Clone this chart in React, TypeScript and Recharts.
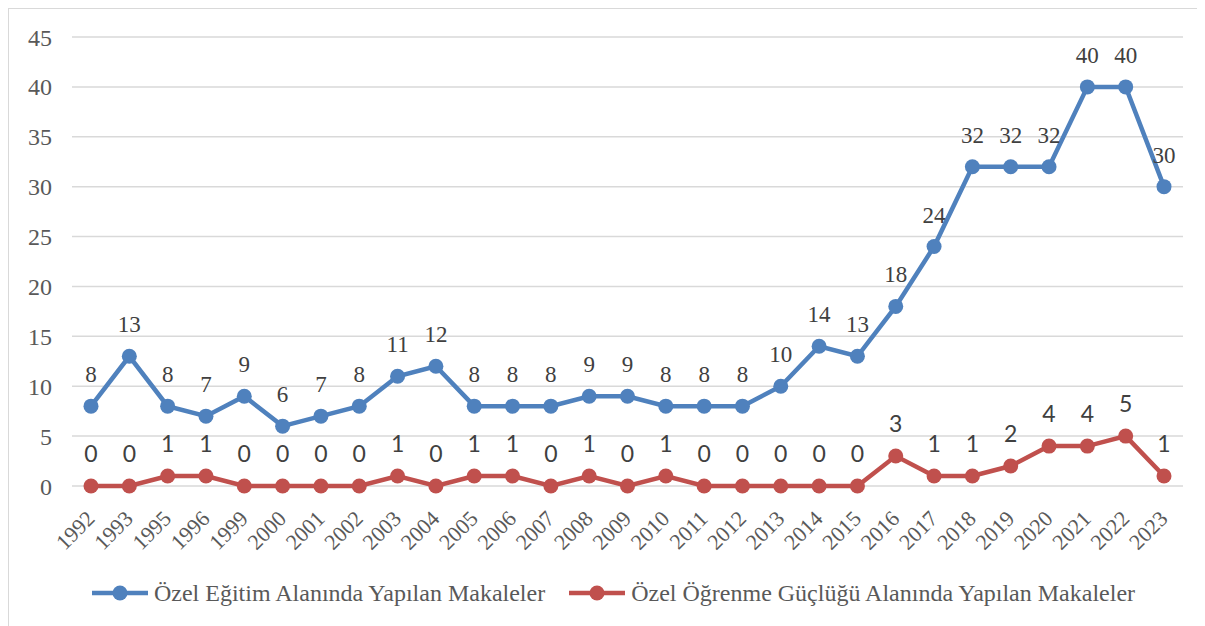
import { LineChart, Line, XAxis, YAxis, CartesianGrid, Legend, LabelList } from "recharts";

// Yayın sayıları: yıllara göre iki seri
const YEARS = [
  "1992", "1993", "1995", "1996", "1999", "2000", "2001", "2002", "2003", "2004",
  "2005", "2006", "2007", "2008", "2009", "2010", "2011", "2012", "2013", "2014",
  "2015", "2016", "2017", "2018", "2019", "2020", "2021", "2022", "2023",
];
const OZEL_EGITIM = [
  8, 13, 8, 7, 9, 6, 7, 8, 11, 12, 8, 8, 8, 9, 9, 8, 8, 8, 10, 14, 13, 18, 24, 32, 32, 32, 40, 40, 30,
];
const OGRENME_GUCLUGU = [
  0, 0, 1, 1, 0, 0, 0, 0, 1, 0, 1, 1, 0, 1, 0, 1, 0, 0, 0, 0, 0, 3, 1, 1, 2, 4, 4, 5, 1,
];
const Y_TICKS = [0, 5, 10, 15, 20, 25, 30, 35, 40, 45];

const SERIES_A = "Özel Eğitim Alanında Yapılan Makaleler";
const SERIES_B = "Özel Öğrenme Güçlüğü Alanında Yapılan Makaleler";

const BLUE = "#4f81bd";
const RED = "#c0504d";
const GRID = "#d9d9d9";
const AXIS_TXT = "#595959";
const LABEL_TXT = "#404040";
const SERIF = "'Liberation Serif', 'Times New Roman', serif";
const SANS = "Lato, 'Open Sans', sans-serif";

const data = YEARS.map((year, i) => ({
  year,
  a: OZEL_EGITIM[i],
  b: OGRENME_GUCLUGU[i],
}));

function XTick({ x, y, payload }: any) {
  const tx = x + 5;
  const ty = y + 34;
  return (
    <text
      x={tx}
      y={ty}
      transform={`rotate(-45 ${tx} ${ty})`}
      textAnchor="end"
      fontFamily={SERIF}
      fontSize={22}
      fill={AXIS_TXT}
    >
      {payload.value}
    </text>
  );
}

function makeLabel(font: string) {
  return (props: any) => {
    const { x, y, value } = props;
    return (
      <text x={x} y={y - 24} textAnchor="middle" fontFamily={font} fontSize={23} fill={LABEL_TXT}>
        {value}
      </text>
    );
  };
}

function LegendBox() {
  const item = (color: string, text: string, gap: number) => (
    <div style={{ display: "flex", alignItems: "center", marginRight: gap }}>
      <svg width={58} height={16}>
        <line x1={0} y1={8} x2={56} y2={8} stroke={color} strokeWidth={4.5} />
        <circle cx={28} cy={8} r={7.5} fill={color} />
      </svg>
      <span style={{ fontFamily: SERIF, fontSize: 24, color: AXIS_TXT, lineHeight: "28px", marginLeft: 4 }}>{text}</span>
    </div>
  );
  return (
    <div style={{ height: 40, display: "flex", justifyContent: "center", alignItems: "center", paddingLeft: 35 }}>
      {item(BLUE, SERIES_A, 24)}
      {item(RED, SERIES_B, 0)}
    </div>
  );
}

export default function App() {
  return (
    <div style={{ width: 1195, height: 640, border: `1px solid ${GRID}`, background: "#fff" }}>
      <LineChart width={1193} height={617} data={data} margin={{ top: 28, right: 19, left: 0, bottom: 13 }}>
        <CartesianGrid vertical={false} stroke={GRID} strokeWidth={1.5} />
        <XAxis
          dataKey="year"
          interval={0}
          tickLine={false}
          axisLine={false}
          tickSize={0}
          tickMargin={0}
          height={87}
          padding={{ left: 19, right: 19 }}
          tick={<XTick />}
        />
        <YAxis
          domain={[0, 45]}
          ticks={Y_TICKS}
          width={63}
          tickLine={false}
          axisLine={false}
          tickSize={0}
          tickMargin={20}
          tick={{ fontSize: 24, fill: AXIS_TXT, fontFamily: SERIF }}
        />
        <Legend verticalAlign="bottom" height={40} content={<LegendBox />} />
        <Line
          dataKey="a"
          name={SERIES_A}
          stroke={BLUE}
          strokeWidth={4.5}
          dot={{ r: 7.5, fill: BLUE, stroke: BLUE, strokeWidth: 0 }}
          activeDot={false}
          isAnimationActive={false}
        >
          <LabelList dataKey="a" content={makeLabel(SERIF)} />
        </Line>
        <Line
          dataKey="b"
          name={SERIES_B}
          stroke={RED}
          strokeWidth={4.5}
          dot={{ r: 7.5, fill: RED, stroke: RED, strokeWidth: 0 }}
          activeDot={false}
          isAnimationActive={false}
        >
          <LabelList dataKey="b" content={makeLabel(SANS)} />
        </Line>
      </LineChart>
    </div>
  );
}
